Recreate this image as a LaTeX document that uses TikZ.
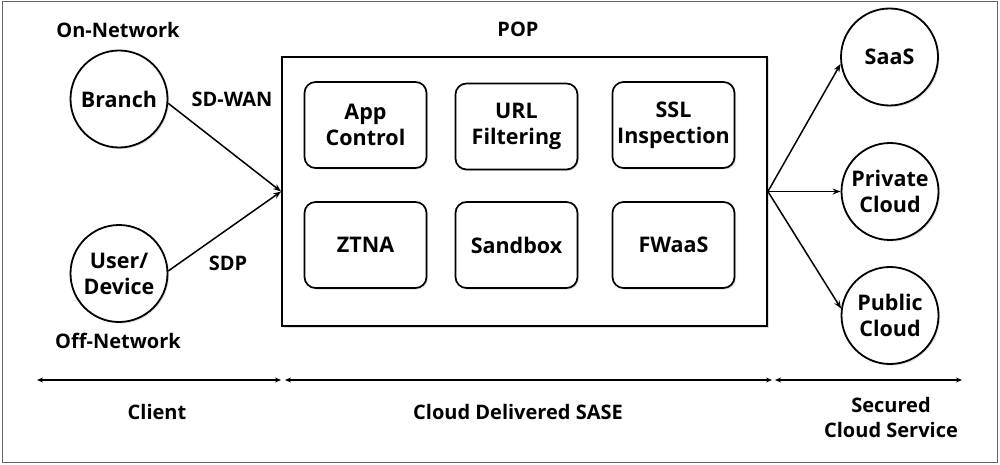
\documentclass[tikz,border=0pt]{standalone}
\usepackage{fontspec}
\setmainfont{Open Sans}
\usetikzlibrary{arrows.meta,shadows}
\begin{document}
\begin{tikzpicture}[x=1pt,y=-1pt,
  lbl/.style={font=\bfseries\fontsize{20}{22}\selectfont, align=center, inner sep=0pt},
  circ/.style={circle, draw, line width=1.8pt, minimum size=97pt, inner sep=0pt, fill=white,
     drop shadow={opacity=0.25, shadow xshift=1.5pt, shadow yshift=-1.5pt},
     font=\bfseries\fontsize{21.5}{26}\selectfont, align=center},
  svc/.style={rounded corners=11pt, draw, line width=1.7pt, minimum width=122pt, minimum height=86pt,
     inner sep=0pt, fill=white,
     drop shadow={opacity=0.25, shadow xshift=1.5pt, shadow yshift=-1.5pt},
     font=\bfseries\fontsize{21.5}{26}\selectfont, align=center},
  conn/.style={line width=1.5pt, -{Stealth[length=8pt,width=6pt]}},
  span/.style={line width=1.4pt, {Stealth[length=6pt,width=5pt]}-{Stealth[length=6pt,width=5pt]}}
]
\useasboundingbox (0,0) rectangle (1000,465);
\draw[gray!80!black, line width=1pt] (2,2) rectangle (997,462);

% POP box
\node[draw, line width=1.8pt, minimum width=485pt, minimum height=269pt, inner sep=0pt, fill=white,
  drop shadow={opacity=0.25, shadow xshift=1.5pt, shadow yshift=-1.5pt}] (pop) at (524.5,191.5) {};
\node[lbl] (poplbl) at (518,29) {POP};

% services
\node[svc] (app) at (365.5,125) {App\\Control};
\node[svc] (url) at (516.5,126.5) {URL\\Filtering};
\node[svc] (ssl) at (673.5,125) {SSL\\Inspection};
\node[svc] (ztna) at (365.5,245) {ZTNA};
\node[svc] (sand) at (516.5,245) {Sandbox};
\node[svc] (fw) at (673.5,245) {FWaaS};

% clients
\node[circ] (branch) at (119,99) {Branch};
\node[circ] (user) at (119,273.5) {User/\\Device};
\node[lbl] (onnet) at (118,30) {On-Network};
\node[lbl] (offnet) at (118,341) {Off-Network};
\node[lbl] (sdwan) at (232,99) {SD-WAN};
\node[lbl] (sdp) at (228,263) {SDP};

% cloud services
\node[circ] (saas) at (889.5,57) {SaaS};
\node[circ] (priv) at (890,191.5) {Private\\Cloud};
\node[circ] (pub) at (890,315.5) {Public\\Cloud};

% connectors
\draw[conn] (branch.-5) -- (pop.west);
\draw[conn] (user.3) -- (pop.west);
\draw[conn] (pop.east) -- (saas.188);
\draw[conn] (pop.east) -- (priv.west);
\draw[conn] (pop.east) -- (pub.172);

% bottom spans
\coordinate (c1) at (37,380);
\coordinate (c2) at (281,380);
\coordinate (s1) at (285,380);
\coordinate (s2) at (772,380);
\coordinate (r1) at (775,380);
\coordinate (r2) at (962,380);
\draw[span] (c1) -- (c2);
\draw[span] (s1) -- (s2);
\draw[span] (r1) -- (r2);
\node[lbl] (client) at (157,412) {Client};
\node[lbl] (sase) at (518,412) {Cloud Delivered SASE};
\node[lbl, font=\bfseries\fontsize{20}{25}\selectfont] (secured) at (891,417) {Secured\\Cloud Service};
\end{tikzpicture}
\end{document}
